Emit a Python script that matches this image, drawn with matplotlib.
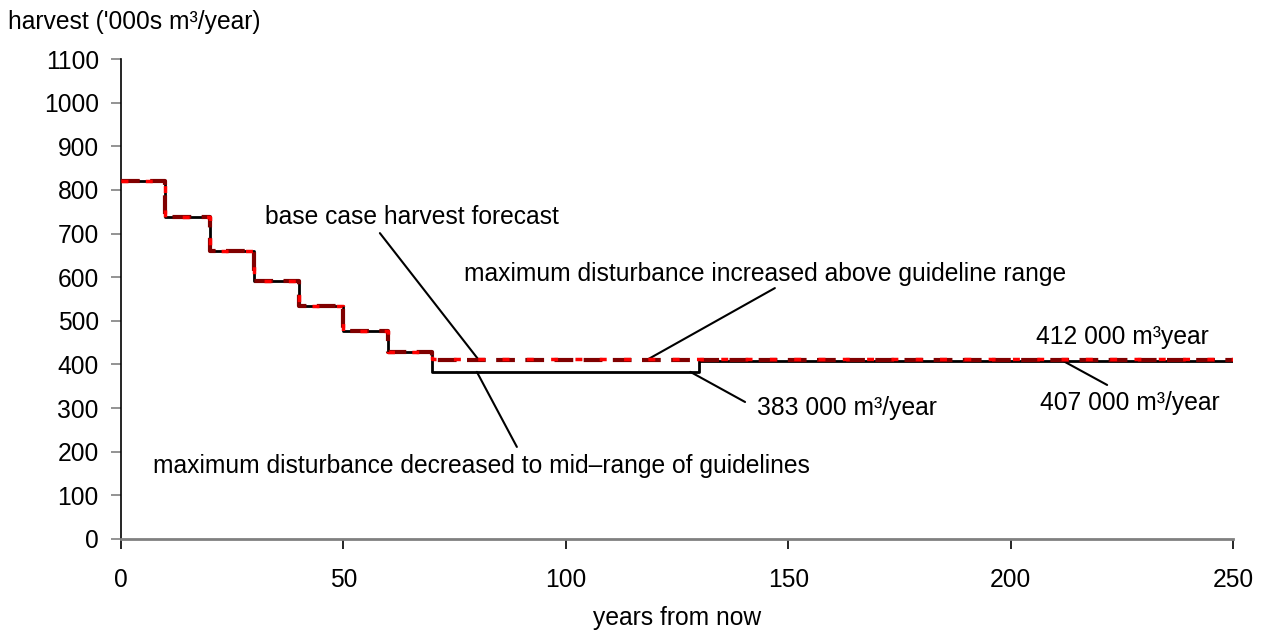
import numpy as np
import matplotlib.pyplot as plt

plt.rcParams['font.family'] = ['Liberation Sans', 'DejaVu Sans']

# step edges (years) and harvest levels ('000s m3/year)
years_early = [0, 10, 20, 30, 40, 50, 60, 70]
harvest_early = [820, 738, 660, 592, 533, 477, 428]

# base case: flat after year 70
base_years = years_early + [250]
base_harvest = harvest_early + [410]

# maximum disturbance increased above guideline range
inc_years = years_early + [250]
inc_harvest = harvest_early + [412]

# maximum disturbance decreased to mid-range of guidelines
dec_years = years_early + [130, 250]
dec_harvest = harvest_early + [383, 407]

yticks = np.arange(0, 1101, 100)
xticks = np.arange(0, 251, 50)


def step_xy(edges, levels):
    # make a stair line from bin edges and levels
    xs, ys = [], []
    for i, lv in enumerate(levels):
        xs += [edges[i], edges[i + 1]]
        ys += [lv, lv]
    return xs, ys


fig = plt.figure(figsize=(12.61, 6.30), dpi=100)
ax = fig.add_axes([121 / 1261, 91 / 630, 1112 / 1261, 480 / 630])

x, y = step_xy(dec_years, dec_harvest)
ax.plot(x, y, color='black', lw=2.0, zorder=3)
x, y = step_xy(base_years, base_harvest)
ax.plot(x, y, color='#800000', lw=3, dashes=(4.5, 2.5), zorder=4)
x, y = step_xy(inc_years, inc_harvest)
ax.plot(x, y, color='#ff0000', lw=2.5, dashes=(2, 5), zorder=5)

ax.set_xlim(0, 250)
ax.set_ylim(0, 1100)
ax.set_xticks(xticks)
ax.set_yticks(yticks)
fs = 17.7
ax.tick_params(axis='both', labelsize=fs, direction='out', length=7)
ax.tick_params(axis='y', color='#808080', width=1.2, pad=9)
ax.tick_params(axis='x', color='black', width=1.2, pad=14)
for s in ['top', 'right']:
    ax.spines[s].set_visible(False)
ax.spines['left'].set_color('black')
ax.spines['left'].set_linewidth(1.2)
ax.spines['bottom'].set_color('#808080')
ax.spines['bottom'].set_linewidth(2)

fig.text(8 / 1261, 1 - 22 / 630, "harvest ('000s m³/year)", fontsize=fs, va='center', ha='left')
fig.text(677 / 1261, 1 - 618 / 630, "years from now", fontsize=fs, va='center', ha='center')

lp = dict(arrowstyle='-', color='black', lw=1.5, shrinkA=0, shrinkB=0)
# leader lines: (start, end)
ax.annotate('', xy=(80.3, 412), xytext=(58.2, 701), arrowprops=lp)
ax.annotate('', xy=(118.5, 412), xytext=(147, 575), arrowprops=lp)
ax.annotate('', xy=(80, 383), xytext=(89, 211), arrowprops=lp)
ax.annotate('', xy=(128, 383), xytext=(140.3, 314), arrowprops=lp)
ax.annotate('', xy=(211.1, 412), xytext=(221.7, 353), arrowprops=lp)

ax.text(65.5, 738, 'base case harvest forecast', fontsize=fs, ha='center', va='center')
ax.text(144.8, 607, 'maximum disturbance increased above guideline range', fontsize=fs,
        ha='center', va='center')
ax.text(81.0, 167, 'maximum disturbance decreased to mid\u2013range of guidelines', fontsize=fs,
        ha='center', va='center')
ax.text(143, 300, '383 000 m³/year', fontsize=fs, ha='left', va='center')
ax.text(225.2, 463, '412 000 m³year', fontsize=fs, ha='center', va='center')
ax.text(226.8, 312, '407 000 m³/year', fontsize=fs, ha='center', va='center')

fig.savefig('out.png', dpi=100)
